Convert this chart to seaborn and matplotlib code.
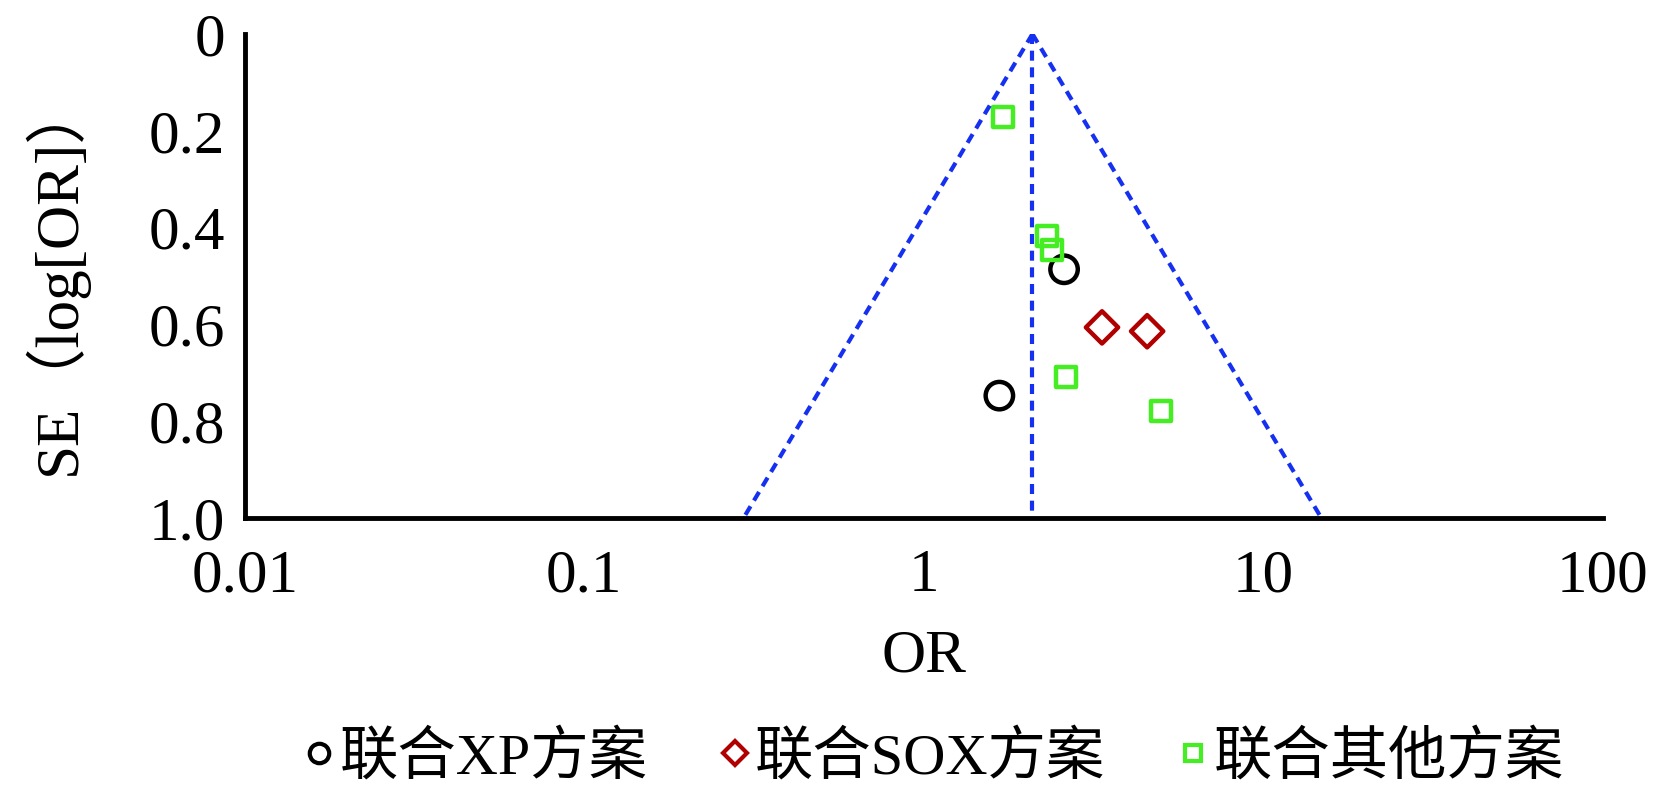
import numpy as np
import pandas as pd
import seaborn as sns
import matplotlib.pyplot as plt
from matplotlib.lines import Line2D

# Study-level OR and SE(log OR)
groups = ['联合XP方案', '联合XP方案',
          '联合SOX方案', '联合SOX方案',
          '联合其他方案', '联合其他方案', '联合其他方案', '联合其他方案', '联合其他方案']
or_values = [2.59, 1.67, 3.35, 4.55, 1.71, 2.31, 2.38, 2.63, 5.0]
se_values = [0.486, 0.747, 0.606, 0.614, 0.172, 0.418, 0.447, 0.708, 0.778]

pooled_or = 2.09
x_ticks = [0.01, 0.1, 1, 10, 100]
x_labels = ['0.01', '0.1', '1', '10', '100']
y_ticks = [0, 0.2, 0.4, 0.6, 0.8, 1.0]
y_labels = ['0', '0.2', '0.4', '0.6', '0.8', '1.0']

df = pd.DataFrame({'group': groups, 'OR': or_values, 'SE': se_values})

sns.set_style('white')
plt.rcParams['font.family'] = ['Liberation Serif', 'Noto Sans CJK SC']
plt.rcParams['text.color'] = 'black'
plt.rcParams['xtick.color'] = 'black'
plt.rcParams['ytick.color'] = 'black'
plt.rcParams['axes.labelcolor'] = 'black'

fig = plt.figure(figsize=(16.54, 7.91), dpi=100)
ax = fig.add_axes([0.148, 0.345, 0.821, 0.612])

# funnel (95% pseudo confidence limits) and pooled estimate
dash = (0, (2.4, 1.6))
blue = '#1530f0'
se_line = np.linspace(0, 1.0, 50)
ax.plot(pooled_or * np.exp(-1.96 * se_line), se_line, ls=dash, color=blue, lw=3)
ax.plot(pooled_or * np.exp(1.96 * se_line), se_line, ls=dash, color=blue, lw=3)
ax.plot([pooled_or, pooled_or], [0, 1.0], ls=dash, color=blue, lw=3)

order = ['联合XP方案', '联合SOX方案', '联合其他方案']
palette = {'联合XP方案': 'black', '联合SOX方案': '#b00000', '联合其他方案': '#44ee22'}
markers = {'联合XP方案': 'o', '联合SOX方案': 'D', '联合其他方案': 's'}
sizes = {'联合XP方案': 390, '联合SOX方案': 270, '联合其他方案': 210}
for g in order:
    sub = df[df['group'] == g]
    sns.scatterplot(data=sub, x='OR', y='SE', ax=ax, marker=markers[g], s=sizes[g],
                    facecolor='none', edgecolor=palette[g], linewidth=3.2, legend=False)

ax.set_xscale('log')
ax.set_xlim(0.01, 100)
ax.set_ylim(1.0, 0)
ax.set_xticks(x_ticks)
ax.set_xticklabels(x_labels)
ax.minorticks_off()
ax.set_yticks(y_ticks)
ax.set_yticklabels(y_labels)
ax.tick_params(axis='both', direction='in', length=12, width=3, labelsize=44)
ax.tick_params(axis='x', pad=22)
ax.tick_params(axis='y', pad=14)
for side in ['top', 'right']:
    ax.spines[side].set_visible(False)
for side in ['left', 'bottom']:
    ax.spines[side].set_linewidth(3.5)
    ax.spines[side].set_color('black')

ax.set_xlabel('OR', fontsize=44, labelpad=18)
ax.set_ylabel('SE（log[OR]）', fontsize=44, labelpad=44)

handles = [Line2D([], [], ls='none', marker=markers[g], markersize=12 if g != '联合XP方案' else 14,
                  markerfacecolor='none', markeredgecolor=palette[g], markeredgewidth=3)
           for g in order]
ax.legend(handles, order, loc='upper center', bbox_to_anchor=(0.5, -0.39), ncol=3,
          frameon=False, fontsize=42, handletextpad=-0.25, columnspacing=0.9,
          handlelength=1.2, borderaxespad=0)

fig.savefig('out.png', dpi=100)
